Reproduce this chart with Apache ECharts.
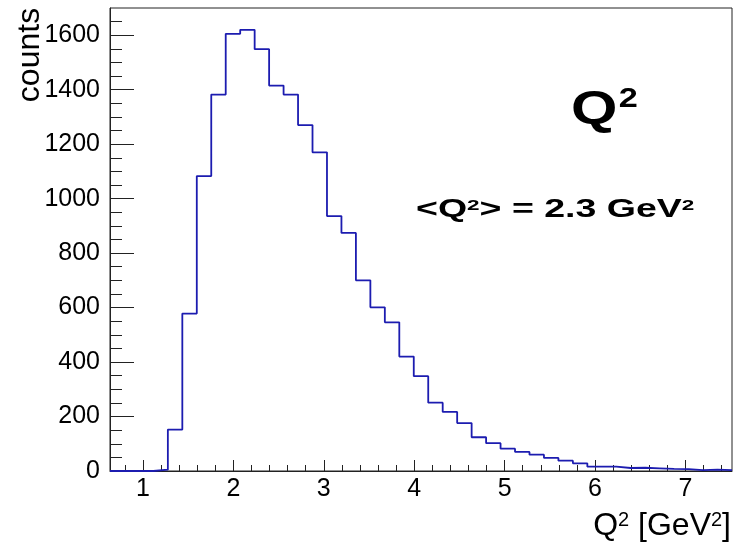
<!DOCTYPE html>
<html>
<head>
<meta charset="utf-8">
<script src="https://cdn.jsdelivr.net/npm/echarts@6/dist/echarts.min.js"></script>
<style>
  html, body { margin: 0; padding: 0; background: #fff; }
  #chart { width: 735px; height: 545px; }
</style>
</head>
<body>
<div id="chart"></div>
<script>
// Q^2 histogram, 43 bins
const binLow = 0.635
const binWidth = 0.16
const counts = [
  0, 0, 0, 5, 152, 578, 1083, 1382, 1605, 1620,
  1549, 1415, 1382, 1270, 1170, 936, 874, 700, 601, 546,
  420, 348, 251, 217, 176, 124, 102, 82, 70, 60,
  48, 38, 28, 16, 16, 11, 12, 10, 8, 7,
  3, 5, 3
]
const xMajorTicks = [1, 2, 3, 4, 5, 6, 7]
const yMajorTicks = [0, 200, 400, 600, 800, 1000, 1200, 1400, 1600]
const yMax = 1700

const xMax = +(binLow + counts.length * binWidth).toFixed(3)

// minor ticks: x every 0.2, y every 50
const xMinorTicks = []
for (let v = 0.8; v < xMax; v += 0.2) {
  const r = +v.toFixed(1)
  if (xMajorTicks.indexOf(r) < 0) xMinorTicks.push(r)
}
const yMinorTicks = []
for (let v = 50; v < yMax; v += 50) {
  if (yMajorTicks.indexOf(v) < 0) yMinorTicks.push(v)
}

// step line: one point per bin low edge plus the closing edge
const stepData = counts.map((c, i) => [binLow + i * binWidth, c])
stepData.push([xMax, counts[counts.length - 1]])

const FONT = '"Liberation Sans", Arial, Helvetica, sans-serif'
const AXIS_COLOR = '#222'

const chart = echarts.init(document.getElementById('chart'), null, { renderer: 'canvas' })

chart.setOption({
  animation: false,
  backgroundColor: '#fff',
  grid: {
    left: 110,
    right: 3,
    top: 8,
    bottom: 74,
    show: true,
    borderColor: AXIS_COLOR,
    borderWidth: 1,
    backgroundColor: 'transparent'
  },
  xAxis: [{
    type: 'value',
    min: binLow,
    max: xMax,
    axisLine: { show: true, lineStyle: { color: AXIS_COLOR, width: 1 } },
    axisTick: { show: true, inside: true, length: 11, customValues: xMajorTicks, lineStyle: { color: AXIS_COLOR } },
    axisLabel: { show: true, customValues: xMajorTicks, margin: 6, color: '#000', fontSize: 25, fontFamily: FONT, formatter: v => String(v) },
    splitLine: { show: false }
  }, {
    type: 'value',
    min: binLow,
    max: xMax,
    position: 'bottom',
    axisLine: { show: false },
    axisTick: { show: true, inside: true, length: 6, customValues: xMinorTicks, lineStyle: { color: AXIS_COLOR } },
    axisLabel: { show: false },
    splitLine: { show: false }
  }],
  yAxis: [{
    type: 'value',
    min: 0,
    max: yMax,
    axisLine: { show: true, lineStyle: { color: AXIS_COLOR, width: 1 } },
    axisTick: { show: true, inside: true, length: 24, customValues: yMajorTicks, lineStyle: { color: AXIS_COLOR } },
    axisLabel: { show: true, customValues: yMajorTicks, margin: 10, color: '#000', fontSize: 25, fontFamily: FONT, formatter: v => String(v) },
    splitLine: { show: false }
  }, {
    type: 'value',
    min: 0,
    max: yMax,
    position: 'left',
    axisLine: { show: false },
    axisTick: { show: true, inside: true, length: 12, customValues: yMinorTicks, lineStyle: { color: AXIS_COLOR } },
    axisLabel: { show: false },
    splitLine: { show: false }
  }],
  series: [{
    name: 'Q2',
    type: 'line',
    xAxisIndex: 0,
    yAxisIndex: 0,
    step: 'end',
    showSymbol: false,
    symbol: 'none',
    data: stepData,
    lineStyle: { color: '#1c1cb0', width: 1.8 },
    itemStyle: { color: '#1c1cb0' }
  }],
  graphic: [{
    // y axis title
    type: 'text',
    x: 30,
    y: 55,
    rotation: Math.PI / 2,
    style: {
      text: 'counts',
      font: '32px ' + FONT,
      fill: '#000',
      align: 'center',
      verticalAlign: 'middle'
    }
  }, {
    // x axis title with superscripts
    type: 'text',
    x: 731,
    y: 510,
    style: {
      text: '{a|Q}{b|2}{a| [GeV}{b|2}{a|]}',
      align: 'right',
      verticalAlign: 'top',
      fill: '#000',
      rich: {
        a: { fontSize: 32, lineHeight: 32, fontFamily: FONT, fill: '#000' },
        b: { fontSize: 20, lineHeight: 19, fontFamily: FONT, fill: '#000', verticalAlign: 'top' }
      }
    }
  }, {
    type: 'text',
    x: 571,
    y: 110,
    scaleX: 1.27,
    style: {
      text: '{q|Q}{s|2}',
      align: 'left',
      verticalAlign: 'middle',
      fill: '#000',
      rich: {
        q: { fontSize: 47, fontWeight: 'bold', lineHeight: 47, fontFamily: FONT, fill: '#000' },
        s: { fontSize: 27, fontWeight: 'bold', lineHeight: 33, fontFamily: FONT, fill: '#000', verticalAlign: 'top', padding: [0, 0, 0, 1] }
      }
    }
  }, {
    type: 'text',
    x: 416,
    y: 210.5,
    scaleX: 1.5,
    style: {
      text: '{a|<Q}{s|2}{a|> = 2.3 GeV}{s|2}',
      align: 'left',
      verticalAlign: 'middle',
      fill: '#000',
      rich: {
        a: { fontSize: 25, fontWeight: 'bold', lineHeight: 25, fontFamily: FONT, fill: '#000' },
        s: { fontSize: 15, fontWeight: 'bold', lineHeight: 17, fontFamily: FONT, fill: '#000', verticalAlign: 'top' }
      }
    }
  }]
})
</script>
</body>
</html>
